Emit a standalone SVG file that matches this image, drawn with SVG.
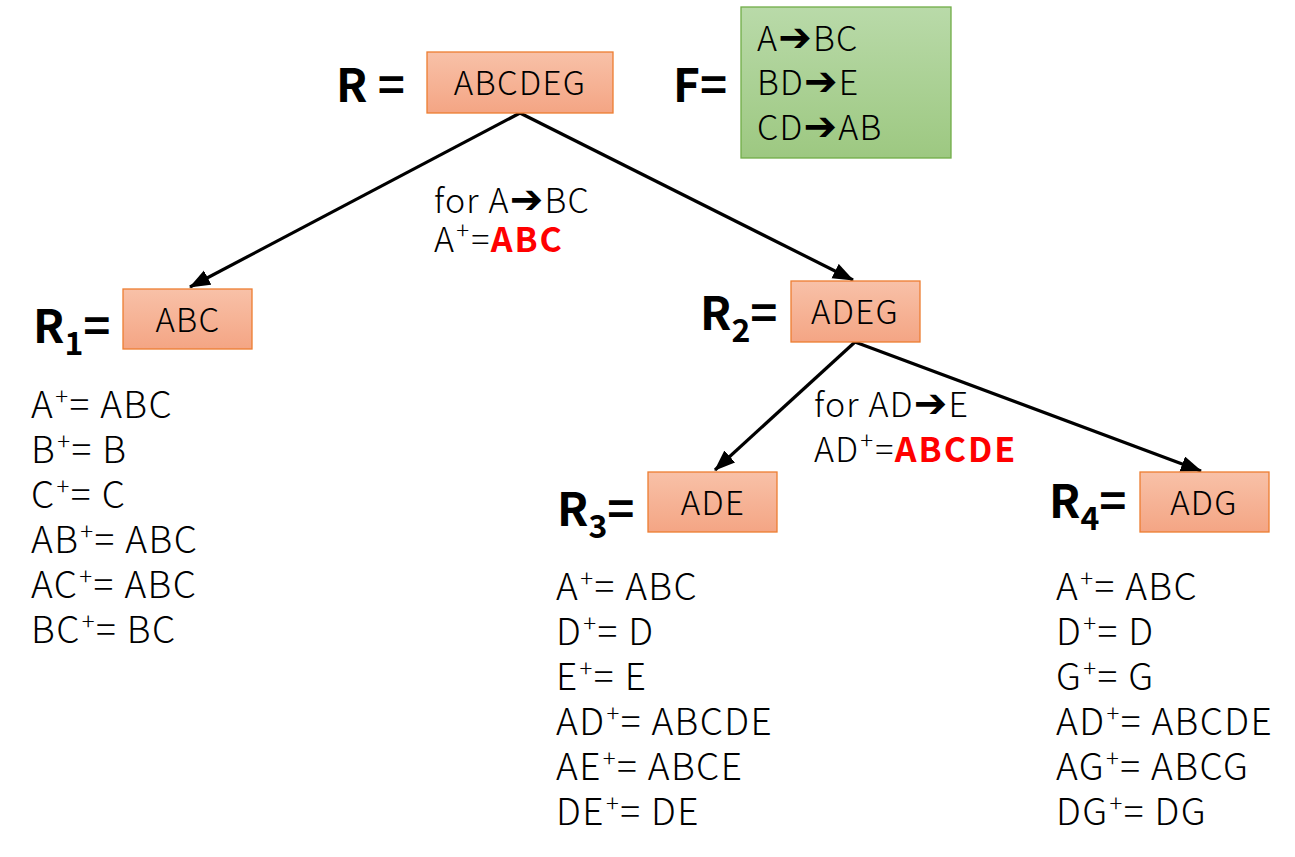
<svg xmlns="http://www.w3.org/2000/svg" width="1295" height="857" viewBox="0 0 1295 857">
<defs>
<linearGradient id="gOr" x1="0" y1="0" x2="0" y2="1">
<stop offset="0" stop-color="#f8c1a8"/>
<stop offset="1" stop-color="#f4a584"/>
</linearGradient>
<linearGradient id="gGr" x1="0" y1="0" x2="0" y2="1">
<stop offset="0" stop-color="#b9daa9"/>
<stop offset="1" stop-color="#9dc881"/>
</linearGradient>
<marker id="ah" markerUnits="userSpaceOnUse" markerWidth="24" markerHeight="18" refX="20" refY="8" orient="auto">
<path d="M0,0 L21,8 L0,16 z" fill="#000"/>
</marker>
</defs>
<style>
text{font-family:"Noto Sans CJK SC","Noto Sans",sans-serif;fill:#000;font-weight:300}
.box{fill:url(#gOr);stroke:#ed7d31;stroke-width:1.3}
.fbox{fill:url(#gGr);stroke:#70ad47;stroke-width:1.3}
.bt{font-size:33px;text-anchor:middle;letter-spacing:1.3px}
.lbl{font-size:46px;font-weight:bold}
.sub{font-size:32px;font-weight:bold}
.lst{font-size:37px;letter-spacing:1.4px}
.sup{font-size:24px}
.mid{font-size:34px;letter-spacing:1.2px}
.red{fill:#ff0000;font-weight:bold;letter-spacing:2px}
.arr{font-family:"DejaVu Sans",sans-serif;font-weight:normal;font-size:40px}
.con{stroke:#000;stroke-width:3.2;fill:none;marker-end:url(#ah)}
</style>

<g id="connectors">
<line class="con" x1="520" y1="113" x2="190" y2="287"/>
<line class="con" x1="520" y1="113" x2="853" y2="280"/>
<line class="con" x1="855" y1="342" x2="715" y2="470"/>
<line class="con" x1="855" y1="342" x2="1201" y2="471"/>
</g>

<g id="nodeR">
<text class="lbl" x="336" y="102">R =</text>
<rect class="box" x="427" y="52" width="186" height="61"/>
<text class="bt" x="520" y="95">ABCDEG</text>
</g>

<g id="nodeF">
<text class="lbl" x="673" y="102">F=</text>
<rect class="fbox" x="741" y="7" width="210" height="151"/>
<text class="mid" x="757" y="51">A<tspan class="arr">➔</tspan>BC</text>
<text class="mid" x="757" y="95">BD<tspan class="arr">➔</tspan>E</text>
<text class="mid" x="757" y="140">CD<tspan class="arr">➔</tspan>AB</text>
</g>

<g id="label1">
<text class="mid" x="434" y="213">for A<tspan class="arr">➔</tspan>BC</text>
<text class="mid" x="434" y="252">A<tspan class="sup" dx="1" dy="-13">+</tspan><tspan dx="1" dy="13">=</tspan><tspan class="red">ABC</tspan></text>
</g>

<g id="label2">
<text class="mid" x="814" y="417">for AD<tspan class="arr">➔</tspan>E</text>
<text class="mid" x="814" y="462">AD<tspan class="sup" dx="1" dy="-13">+</tspan><tspan dx="1" dy="13">=</tspan><tspan class="red">ABCDE</tspan></text>
</g>

<g id="nodeR1">
<text class="lbl" x="33" y="343">R<tspan class="sub" dy="12">1</tspan><tspan dy="-12">=</tspan></text>
<rect class="box" x="123" y="289" width="129" height="60"/>
<text class="bt" x="188" y="332">ABC</text>
<text class="lst" x="31" y="418">A<tspan class="sup" dx="1" dy="-13">+</tspan><tspan dy="13">= ABC</tspan></text>
<text class="lst" x="31" y="463">B<tspan class="sup" dx="1" dy="-13">+</tspan><tspan dy="13">= B</tspan></text>
<text class="lst" x="31" y="508">C<tspan class="sup" dx="1" dy="-13">+</tspan><tspan dy="13">= C</tspan></text>
<text class="lst" x="31" y="553">AB<tspan class="sup" dx="1" dy="-13">+</tspan><tspan dy="13">= ABC</tspan></text>
<text class="lst" x="31" y="598">AC<tspan class="sup" dx="1" dy="-13">+</tspan><tspan dy="13">= ABC</tspan></text>
<text class="lst" x="31" y="643">BC<tspan class="sup" dx="1" dy="-13">+</tspan><tspan dy="13">= BC</tspan></text>
</g>

<g id="nodeR2">
<text class="lbl" x="700" y="330">R<tspan class="sub" dy="12">2</tspan><tspan dy="-12">=</tspan></text>
<rect class="box" x="791" y="281" width="129" height="61"/>
<text class="bt" x="855" y="324">ADEG</text>
</g>

<g id="nodeR3">
<text class="lbl" x="557" y="526">R<tspan class="sub" dy="12">3</tspan><tspan dy="-12">=</tspan></text>
<rect class="box" x="648" y="472" width="129" height="60"/>
<text class="bt" x="713" y="515">ADE</text>
<text class="lst" x="556" y="600">A<tspan class="sup" dx="1" dy="-13">+</tspan><tspan dy="13">= ABC</tspan></text>
<text class="lst" x="556" y="645">D<tspan class="sup" dx="1" dy="-13">+</tspan><tspan dy="13">= D</tspan></text>
<text class="lst" x="556" y="690">E<tspan class="sup" dx="1" dy="-13">+</tspan><tspan dy="13">= E</tspan></text>
<text class="lst" x="556" y="735">AD<tspan class="sup" dx="1" dy="-13">+</tspan><tspan dy="13">= ABCDE</tspan></text>
<text class="lst" x="556" y="780">AE<tspan class="sup" dx="1" dy="-13">+</tspan><tspan dy="13">= ABCE</tspan></text>
<text class="lst" x="556" y="825">DE<tspan class="sup" dx="1" dy="-13">+</tspan><tspan dy="13">= DE</tspan></text>
</g>

<g id="nodeR4">
<text class="lbl" x="1049" y="518">R<tspan class="sub" dy="12">4</tspan><tspan dy="-12">=</tspan></text>
<rect class="box" x="1140" y="472" width="129" height="60"/>
<text class="bt" x="1204" y="515">ADG</text>
<text class="lst" x="1056" y="600">A<tspan class="sup" dx="1" dy="-13">+</tspan><tspan dy="13">= ABC</tspan></text>
<text class="lst" x="1056" y="645">D<tspan class="sup" dx="1" dy="-13">+</tspan><tspan dy="13">= D</tspan></text>
<text class="lst" x="1056" y="690">G<tspan class="sup" dx="1" dy="-13">+</tspan><tspan dy="13">= G</tspan></text>
<text class="lst" x="1056" y="735">AD<tspan class="sup" dx="1" dy="-13">+</tspan><tspan dy="13">= ABCDE</tspan></text>
<text class="lst" x="1056" y="780">AG<tspan class="sup" dx="1" dy="-13">+</tspan><tspan dy="13">= ABCG</tspan></text>
<text class="lst" x="1056" y="825">DG<tspan class="sup" dx="1" dy="-13">+</tspan><tspan dy="13">= DG</tspan></text>
</g>
</svg>
